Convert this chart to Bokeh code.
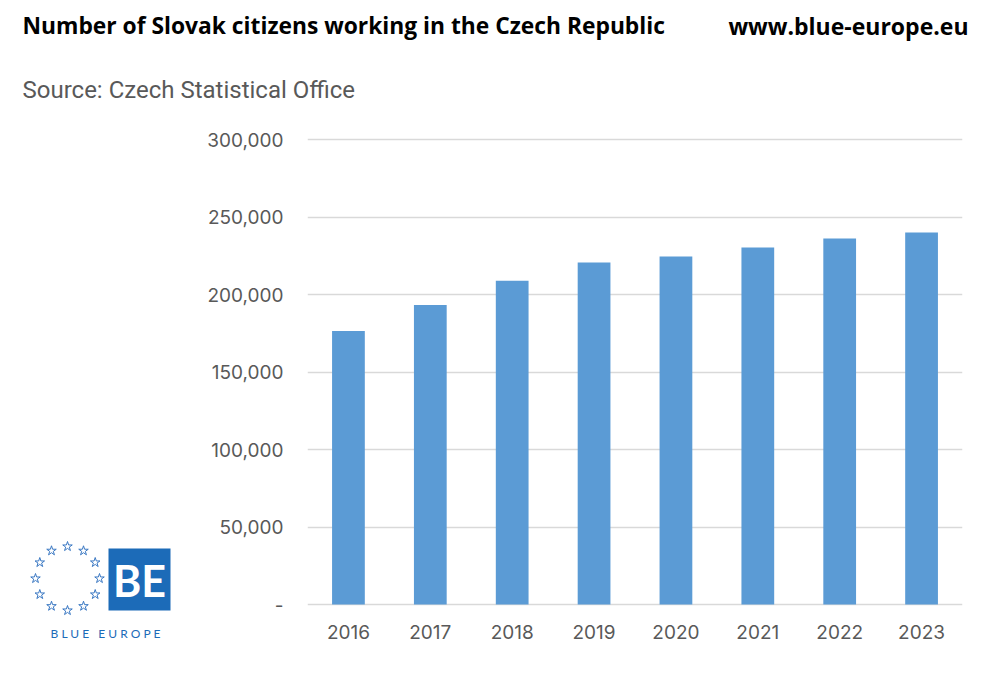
import math
from bokeh.plotting import figure
from bokeh.layouts import column, row
from bokeh.models import Label, CustomJSTickFormatter, FixedTicker, Range1d, BoxAnnotation
from bokeh.core.properties import value
from bokeh.embed import file_html
from bokeh.resources import INLINE

years = ["2016", "2017", "2018", "2019", "2020", "2021", "2022", "2023"]
workers = [176500, 193300, 208900, 220600, 224500, 230300, 236100, 240000]
y_ticks = [0, 50000, 100000, 150000, 200000, 250000, 300000]

W, H = 988, 680
HEAD_H = 110
LOGO_W = 180
BODY_H = H - HEAD_H
FL, FR, FT = 307, 962, 137      # frame left / right / top (canvas px)
ZERO_Y, TOP_Y = 604, 139        # canvas px of value 0 and 300,000
BLUE = "#1c6bb8"
TICK_FONT = "Inter"
GREY = "#595959"

# value range so that 0 sits at ZERO_Y and 300,000 at TOP_Y, frame running to the canvas bottom
per_px = 300000 / (ZERO_Y - TOP_Y)
y_end = 300000 + (TOP_Y - FT) * per_px
y_start = -(H - ZERO_Y) * per_px


def blank(w, h, y0, y1, top=0):
    f = figure(width=w, height=h, x_range=Range1d(0, w), y_range=Range1d(y0, y1),
               output_backend="svg", toolbar_location=None, title=None,
               x_axis_type=None, y_axis_type=None, min_border=0)
    f.min_border_top = top
    f.outline_line_color = None
    f.xgrid.visible = False
    f.ygrid.visible = False
    return f


# header (data y = canvas y)
head = blank(W, HEAD_H, HEAD_H, 0)
head.add_layout(Label(x=22, y=25, text="Number of Slovak citizens working in the Czech Republic",
                      text_font="Open Sans", text_font_style="bold", text_font_size="22.8px",
                      text_color="black", text_baseline="alphabetic"))
head.add_layout(Label(x=968, y=25, text="www.blue-europe.eu", text_font="Open Sans",
                      text_font_style="bold", text_font_size="23px", text_color="black",
                      text_baseline="alphabetic", text_align="right"))
head.add_layout(Label(x=22, y=89, text="Source: Czech Statistical Office", text_font="Roboto",
                      text_font_size="24px", text_color=GREY, text_baseline="alphabetic"))

# logo (frame spans canvas y FT..H; data y = canvas y)
logo = blank(LOGO_W, BODY_H, H, FT, top=FT - HEAD_H)
ccx, ccy, r = 67, 578, 32
angles = [math.pi / 2 - i * 2 * math.pi / 12 for i in range(12)]
logo.scatter(x=[ccx + r * math.cos(a) for a in angles],
             y=[ccy - r * math.sin(a) for a in angles],
             marker="star", size=10, fill_color=None, line_color="#3a78c3", line_width=1)
logo.add_layout(BoxAnnotation(left=108, right=170, top=548, bottom=610,
                              fill_color=BLUE, fill_alpha=1, line_color=None))
logo.add_layout(Label(x=139, y=580, text="BE", text_font="Lato",
                      text_font_style="bold", text_font_size="43px", text_color="white",
                      text_align="center", text_baseline="middle"))
nb = "\u00a0"
logo.add_layout(Label(x=105, y=633, text=nb.join("BLUE") + nb * 3 + nb.join("EUROPE"),
                      text_font="Lato", text_font_size="12px", text_color=BLUE,
                      text_align="center", text_baseline="alphabetic"))

# main chart
p = figure(width=W - LOGO_W, height=BODY_H, x_range=years, y_range=Range1d(y_start, y_end),
           output_backend="svg", toolbar_location=None, title=None, x_axis_location=None,
           min_border_left=FL - LOGO_W, min_border_right=W - FR,
           min_border_top=FT - HEAD_H, min_border_bottom=0)
p.outline_line_color = None

p.vbar(x=years, top=workers, width=0.4, color="#5b9bd5", line_color=None)
p.text(x=years, y=[0] * len(years), text=years, y_offset=27,
       text_font=value(TICK_FONT), text_font_size="19px", text_color=GREY,
       text_align="center", text_baseline="middle")

p.yaxis.ticker = FixedTicker(ticks=y_ticks)
p.yaxis.formatter = CustomJSTickFormatter(code="""
return tick == 0 ? "-" : tick.toLocaleString('en-US');
""")
p.yaxis.axis_line_color = None
p.yaxis.major_tick_line_color = None
p.yaxis.minor_tick_line_color = None
p.yaxis.major_label_standoff = 18
p.yaxis.major_label_text_font = TICK_FONT
p.yaxis.major_label_text_font_size = "19px"
p.yaxis.major_label_text_color = GREY

p.xgrid.grid_line_color = None
p.ygrid.ticker = FixedTicker(ticks=y_ticks)
p.ygrid.grid_line_color = "#d9d9d9"
p.ygrid.grid_line_width = 1.5

layout = column(head, row(logo, p, spacing=0), spacing=0)
open("out.html", "w").write(file_html(layout, INLINE))
